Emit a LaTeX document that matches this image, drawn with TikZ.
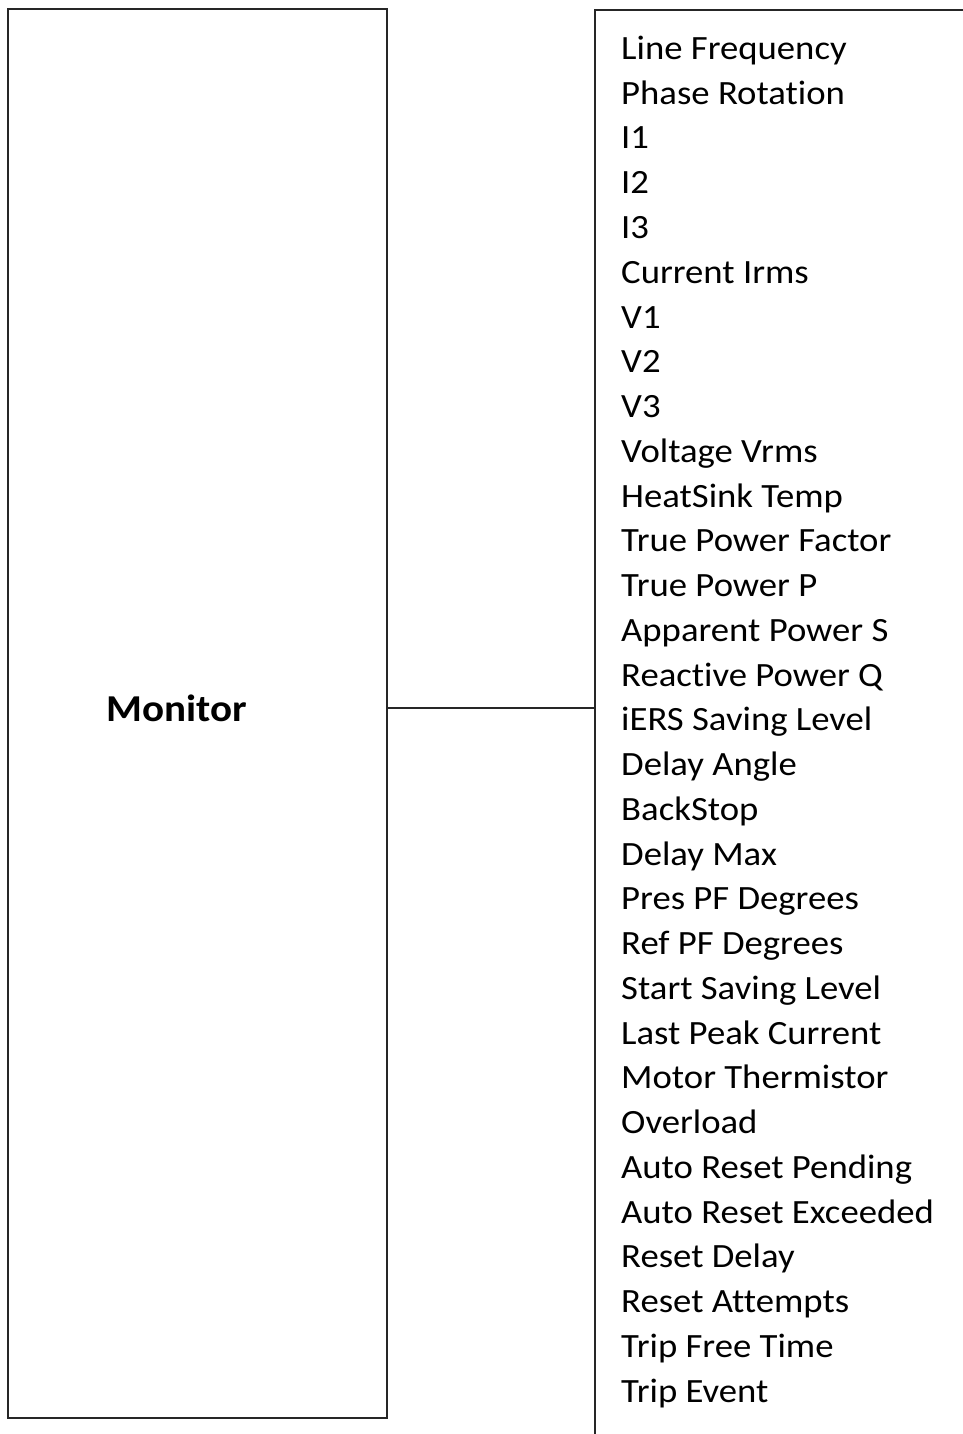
\documentclass[tikz,border=0pt]{standalone}
\usepackage{fontspec}
\setmainfont[FakeStretch=1.08,Ligatures=NoCommon]{Carlito}
\usetikzlibrary{positioning}
\tikzset{frame/.style={draw=black!85,line width=1.6pt,inner sep=0pt,outer sep=0pt},
  item/.style={anchor=base west,inner sep=0pt,font=\fontsize{34}{34}\selectfont},
  wire/.style={draw=black!85,line width=1.6pt}}

\begin{document}
\begin{tikzpicture}[x=1pt,y=1pt]
\useasboundingbox (0,0) rectangle (963,-1434);
\node[frame,minimum width=379pt,minimum height=1409pt] (monitor) at (197.5,-713.5) {};
\node[font=\fontsize{38}{38}\selectfont\bfseries] (montext) at (176.5,-708) {Monitor};
\node[frame,minimum width=400pt,minimum height=1460pt,anchor=north west] (list) at (595,-10) {};
\foreach \t [count=\i from 0] in {Line Frequency,Phase Rotation,I1,I2,I3,Current Irms,V1,V2,V3,
  Voltage Vrms,HeatSink Temp,True Power Factor,True Power P,Apparent Power S,Reactive Power Q,
  iERS Saving Level,Delay Angle,BackStop,Delay Max,Pres PF Degrees,Ref PF Degrees,
  Start Saving Level,Last Peak Current,Motor Thermistor,Overload,Auto Reset Pending,
  Auto Reset Exceeded,Reset Delay,Reset Attempts,Trip Free Time,Trip Event}
  \node[item] (v\i) at (621,-59.5-44.75*\i) {\t};
\draw[wire] (monitor.east |- montext) -- (list.west |- montext);
\end{tikzpicture}
\end{document}
